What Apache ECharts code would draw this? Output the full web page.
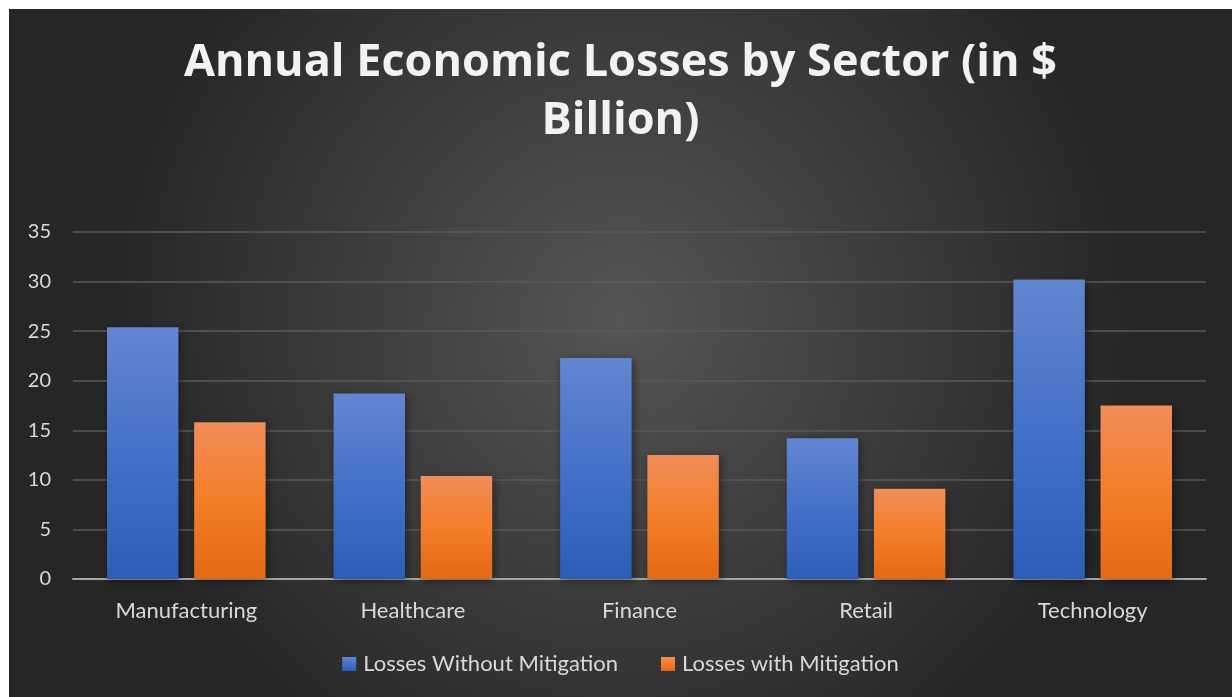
<!DOCTYPE html>
<html>
<head>
<meta charset="utf-8">
<script src="https://cdn.jsdelivr.net/npm/echarts@6/dist/echarts.min.js"></script>
<style>
html,body{margin:0;padding:0;background:#ffffff;}
#chart{position:absolute;left:9px;top:9px;width:1223px;height:688px;}
</style>
</head>
<body>
<div id="chart"></div>
<script>
const categories = ['Manufacturing', 'Healthcare', 'Finance', 'Retail', 'Technology'];
const lossesWithout = [25.4, 18.7, 22.3, 14.2, 30.2];
const lossesWith = [15.8, 10.4, 12.5, 9.1, 17.5];
const seriesNames = ['Losses Without Mitigation', 'Losses with Mitigation'];
const yTicks = { min: 0, max: 35, interval: 5 };

const chart = echarts.init(document.getElementById('chart'));
const blueGrad = new echarts.graphic.LinearGradient(0, 0, 0, 1, [
  { offset: 0, color: '#6386d0' },
  { offset: 0.5, color: '#4471c8' },
  { offset: 1, color: '#2c5eb7' }
]);
const orangeGrad = new echarts.graphic.LinearGradient(0, 0, 0, 1, [
  { offset: 0, color: '#f08d5a' },
  { offset: 0.5, color: '#f47e2a' },
  { offset: 1, color: '#e36914' }
]);
chart.setOption({
  backgroundColor: new echarts.graphic.RadialGradient(0.5, 0.45, 0.75, [
    { offset: 0, color: '#555555' },
    { offset: 1, color: '#262626' }
  ]),
  animation: false,
  title: {
    text: 'Annual Economic Losses by Sector (in $\nBillion)',
    left: 'center',
    top: 20,
    textStyle: {
      fontFamily: 'Open Sans',
      fontWeight: 'bold',
      fontSize: 45,
      lineHeight: 58,
      color: '#f2f2f2'
    }
  },
  legend: {
    bottom: 17,
    left: 'center',
    itemWidth: 14,
    itemHeight: 14,
    itemGap: 43,
    icon: 'rect',
    textStyle: { fontFamily: 'Lato', fontSize: 22, color: '#d9d9d9', padding: [0, 0, 0, 2] },
    data: seriesNames
  },
  grid: { left: 64, right: 26, top: 223, bottom: 118, containLabel: false },
  xAxis: {
    type: 'category',
    data: categories,
    axisLine: { lineStyle: { color: '#a6a6a6', width: 2 } },
    axisTick: { show: false },
    axisLabel: { fontFamily: 'Lato', fontSize: 22, color: '#d9d9d9', margin: 21 }
  },
  yAxis: {
    type: 'value',
    min: yTicks.min, max: yTicks.max, interval: yTicks.interval,
    axisLine: { show: false },
    axisTick: { show: false },
    axisLabel: { fontFamily: 'Lato', fontSize: 20, color: '#d9d9d9', margin: 22 },
    splitLine: { lineStyle: { color: '#5a5a5a', width: 1.5 } }
  },
  series: [
    {
      name: seriesNames[0], type: 'bar', data: lossesWithout,
      barGap: '22%', barCategoryGap: '30%',
      itemStyle: { color: blueGrad, shadowBlur: 8, shadowColor: 'rgba(0,0,0,0.45)', shadowOffsetX: 2, shadowOffsetY: 2 }
    },
    {
      name: seriesNames[1], type: 'bar', data: lossesWith,
      barGap: '22%', barCategoryGap: '30%',
      itemStyle: { color: orangeGrad, shadowBlur: 8, shadowColor: 'rgba(0,0,0,0.45)', shadowOffsetX: 2, shadowOffsetY: 2 }
    }
  ]
});
</script>
</body>
</html>
